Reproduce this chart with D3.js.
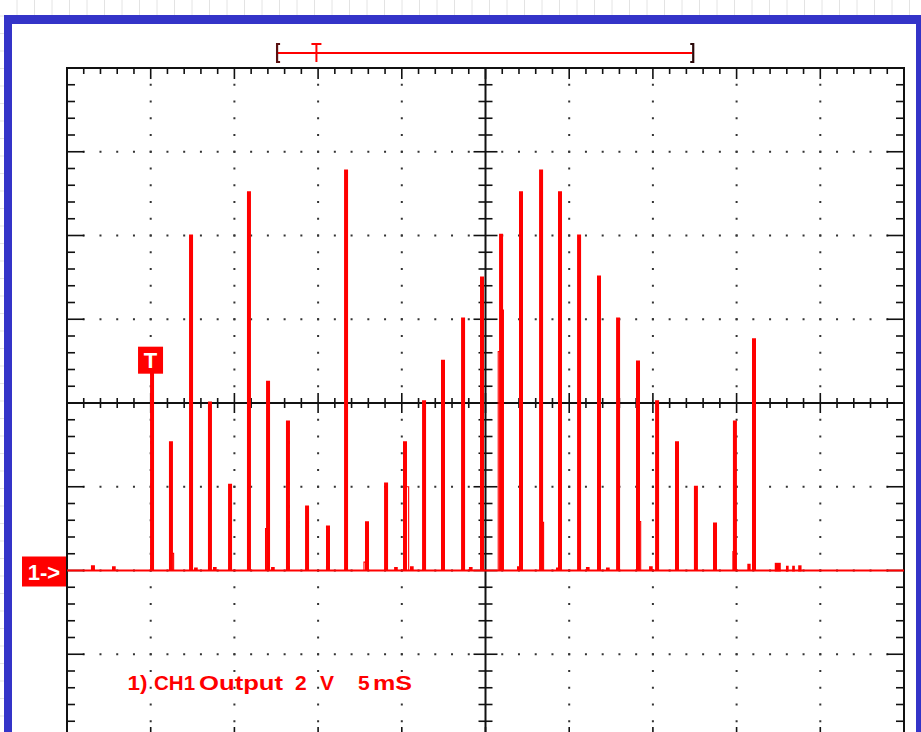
<!DOCTYPE html>
<html>
<head>
<meta charset="utf-8">
<script src="https://cdn.jsdelivr.net/npm/d3@7"></script>
<style>
  body { margin: 0; background: #fff; }
  svg { display: block; font-family: "Liberation Sans", Arial, sans-serif; }
</style>
</head>
<body>
<svg id="scope" width="921" height="732"></svg>
<script>
// scope settings: 5 ms / div across, 2 V / div up, trace ground two divs under centre
var msPerDiv = 5, voltsPerDiv = 2;
var timeRange = [0, 50], voltRange = [-4, 12];

// main pulses (time in ms, peak in V)
var pulseMs = [5.02, 6.15, 7.35, 8.48, 9.68, 10.81, 11.95, 13.14, 14.28, 15.53,
               16.61, 17.86, 19.0, 20.13, 21.27, 22.40, 23.60, 24.73, 25.87, 27.06,
               28.26, 29.39, 30.53, 31.72, 32.86, 34.05, 35.19, 36.38, 37.51, 38.65,
               39.84, 40.98];
var pulseV = [4.7, 3.06, 8.0, 4.01, 2.05, 9.03, 4.51, 3.56, 1.53, 1.05,
              9.55, 1.15, 2.08, 3.06, 4.04, 5.01, 6.02, 7.0, 8.02, 9.03,
              9.55, 9.03, 8.0, 7.02, 6.02, 4.99, 4.04, 3.06, 2.0, 1.12,
              3.56, 5.52];

// thin secondary spikes right after some pulses
var echoMs = [12.07, 26.05];
var echoV = [2.94, 6.23];

// faint hollow ghost pulses
var ghostMs = [6.2, 11.86, 17.74, 20.24, 25.76, 28.3, 34.1, 39.78];
var ghostV = [0.41, 1.0, 0.2, 2.0, 5.23, 1.15, 1.17, 0.45];

// small bumps on the ground line
var blipMs = [1.49, 2.75, 7.65, 8.78, 12.25, 19.6, 20.55, 24.07, 26.94, 29.27,
              31.06, 32.26, 34.83, 40.7];
var blipV = [0.1, 0.08, 0.05, 0.06, 0.06, 0.06, 0.08, 0.06, 0.08, 0.05,
             0.06, 0.05, 0.08, 0.14];
var blipW = [0.12, 0.1, 0.1, 0.1, 0.1, 0.1, 0.1, 0.1, 0.1, 0.1,
             0.1, 0.1, 0.1, 0.08];

// solid little marks after the last pulse
var tailMs = [42.28, 42.95, 43.32, 43.68];
var tailV = [0.16, 0.09, 0.09, 0.1];
var tailW = [0.36, 0.16, 0.16, 0.2];

var triggerMs = 5.02, triggerV = 4.7;
var windowMs = [12.55, 37.35];   // record window bracket over the screen
var windowTriggerMs = 14.9;
var labelParts = ["1)", "CH1", "Output", "2", "V", "5", "mS"];
var labelMs = [3.62, 5.2, 7.89, 13.62, 15.12, 17.39, 18.28];
var labelLen = [20, 41, 84, 0, 0, 0, 39];

var svg = d3.select("#scope");
var W = 921, H = 732;
var plotL = 67, plotR = 904, plotT = 68, plotB = 738;

var x = d3.scaleLinear().domain(timeRange).range([plotL, plotR]);
var y = d3.scaleLinear().domain(voltRange).range([plotB, plotT]);
var red = "#ff0000";

// light grid page background
var defs = svg.append("defs");
var pat = defs.append("pattern").attr("id", "bg").attr("width", 17.5).attr("height", 17.5)
  .attr("patternUnits", "userSpaceOnUse").attr("x", 0).attr("y", -1);
pat.append("rect").attr("width", 17.5).attr("height", 17.5).attr("fill", "#fff");
pat.append("path").attr("d", "M17.5,0V17.5M0,17.5H17.5").attr("stroke", "#dcdcdc").attr("stroke-width", 1.5);
svg.append("rect").attr("width", W).attr("height", H).attr("fill", "url(#bg)");

// blue window frame
svg.append("rect").attr("x", 4).attr("y", 15).attr("width", 930).attr("height", 740).attr("fill", "#3434c8");
svg.append("rect").attr("x", 12).attr("y", 24).attr("width", 904).attr("height", 730).attr("fill", "#fff");

var g = svg.append("g");

// dotted graticule
var dots = [];
var minorT = d3.range(timeRange[0] + 1, timeRange[1], 1);
var minorV = d3.range(1, 40).map(function(i) { return voltRange[0] + i * 0.4; });
var majorT = d3.range(5, 50, 5).filter(function(t) { return t != 25; });
var majorV = [-2, 0, 2, 6, 8, 10];
majorT.forEach(function(t) { minorV.forEach(function(v) { dots.push([t, v]); }); });
majorV.forEach(function(v) { minorT.forEach(function(t) { if (t != 25) dots.push([t, v]); }); });
g.selectAll(".dot").data(dots).enter().append("rect")
  .attr("class", "dot")
  .attr("x", function(d) { return x(d[0]) - 1; })
  .attr("y", function(d) { return y(d[1]) - 1; })
  .attr("width", 2).attr("height", 2)
  .attr("fill", "#333");

function isMajorT(t) { return Math.abs(t % msPerDiv) < 0.01; }
function isMajorV(v) {
  var k = (v - voltRange[0]) / voltsPerDiv;
  return Math.abs(k - Math.round(k)) < 0.01;
}

var ticks = g.append("g").attr("stroke", "#111").attr("stroke-width", 1.6);
// top and bottom edges, centre horizontal axis
minorT.forEach(function(t) {
  var len = isMajorT(t) ? 11 : 6;
  ticks.append("line").attr("x1", x(t)).attr("x2", x(t)).attr("y1", plotT).attr("y2", plotT + len);
  ticks.append("line").attr("x1", x(t)).attr("x2", x(t)).attr("y1", plotB).attr("y2", plotB - len);
  var c = isMajorT(t) ? 10 : 5;
  ticks.append("line").attr("x1", x(t)).attr("x2", x(t)).attr("y1", y(4) - c).attr("y2", y(4) + c);
});
// left and right edges, centre vertical axis
minorV.forEach(function(v) {
  var len = isMajorV(v) ? 17 : 8;
  ticks.append("line").attr("x1", plotL).attr("x2", plotL + len).attr("y1", y(v)).attr("y2", y(v));
  ticks.append("line").attr("x1", plotR).attr("x2", plotR - len).attr("y1", y(v)).attr("y2", y(v));
  var c = isMajorV(v) ? 12 : 7;
  ticks.append("line").attr("x1", x(25) - c).attr("x2", x(25) + c).attr("y1", y(v)).attr("y2", y(v));
});

// centre axes and frame
g.append("line").attr("x1", plotL).attr("x2", plotR).attr("y1", y(4)).attr("y2", y(4)).attr("stroke", "#111").attr("stroke-width", 2);
g.append("line").attr("x1", x(25)).attr("x2", x(25)).attr("y1", plotT).attr("y2", plotB).attr("stroke", "#111").attr("stroke-width", 2);
g.append("rect").attr("x", plotL).attr("y", plotT).attr("width", plotR - plotL).attr("height", plotB - plotT)
  .attr("fill", "none").attr("stroke", "#111").attr("stroke-width", 2);

// build main trace: ground line with rectangular spikes
var events = [];
pulseMs.forEach(function(t, i) { events.push({t: t, v: pulseV[i], w: 0.12}); });
blipMs.forEach(function(t, i) { events.push({t: t, v: blipV[i], w: blipW[i]}); });
events.sort(function(a, b) { return a.t - b.t; });

var pts = [[timeRange[0], 0]];
events.forEach(function(e) {
  pts.push([e.t, 0], [e.t, e.v], [e.t + e.w, e.v], [e.t + e.w, 0]);
});
pts.push([timeRange[1], 0]);

var line = d3.line().x(function(d) { return x(d[0]); }).y(function(d) { return y(d[1]); });

// hollow ghosts
g.selectAll(".ghost").data(ghostMs).enter().append("path")
  .attr("class", "ghost")
  .attr("d", function(t, i) { return line([[t, 0], [t, ghostV[i]], [t + 0.17, ghostV[i]], [t + 0.17, 0]]); })
  .attr("fill", "none").attr("stroke", red).attr("stroke-width", 1.1);

g.selectAll(".echo").data(echoMs).enter().append("path")
  .attr("class", "echo")
  .attr("d", function(t, i) { return line([[t, 0], [t, echoV[i]]]); })
  .attr("fill", "none").attr("stroke", red).attr("stroke-width", 1.8);

g.append("path").attr("d", line(pts)).attr("fill", "none").attr("stroke", red)
  .attr("stroke-width", 2).attr("stroke-linejoin", "miter");

g.selectAll(".tail").data(tailMs).enter().append("rect")
  .attr("class", "tail")
  .attr("x", function(t) { return x(t); })
  .attr("y", function(t, i) { return y(tailV[i]) - 1; })
  .attr("width", function(t, i) { return x(t + tailW[i]) - x(t); })
  .attr("height", function(t, i) { return y(0) - y(tailV[i]) + 2; })
  .attr("fill", red);

// trigger marker
var trig = svg.append("g");
trig.append("rect").attr("x", x(triggerMs) - 13).attr("y", y(triggerV) - 27).attr("width", 25).attr("height", 27).attr("fill", red);
trig.append("text").attr("x", x(triggerMs) - 0.5).attr("y", y(triggerV) - 6).attr("text-anchor", "middle")
  .attr("fill", "#fff").attr("font-weight", "bold").attr("font-size", 22).text("T");

// channel ground marker
var ch = svg.append("g");
ch.append("rect").attr("x", 22).attr("y", y(0) - 14).attr("width", 44).attr("height", 30).attr("fill", red);
ch.append("text").attr("x", 44).attr("y", y(0) + 9).attr("text-anchor", "middle")
  .attr("fill", "#fff").attr("font-weight", "bold").attr("font-size", 22).text("1->");

// record window bracket above the screen
var bw = svg.append("g");
var by = 53;
bw.append("line").attr("x1", x(windowMs[0])).attr("x2", x(windowMs[1])).attr("y1", by).attr("y2", by)
  .attr("stroke", red).attr("stroke-width", 2);
bw.append("path").attr("d", "M" + (x(windowMs[0]) + 3) + "," + (by - 9) + "h-3v18h3")
  .attr("fill", "none").attr("stroke", "#5a1010").attr("stroke-width", 2.2);
bw.append("path").attr("d", "M" + (x(windowMs[1]) - 2) + "," + (by - 9) + "h3v18h-3")
  .attr("fill", "none").attr("stroke", "#2a0a0a").attr("stroke-width", 2.2);
bw.append("path").attr("d", "M" + (x(windowTriggerMs) - 5) + "," + (by - 9) + "h10M" + x(windowTriggerMs) + "," + (by - 9) + "v18")
  .attr("fill", "none").attr("stroke", red).attr("stroke-width", 2);

// channel label
svg.selectAll(".lbl").data(labelParts).enter().append("text")
  .attr("class", "lbl")
  .attr("x", function(d, i) { return x(labelMs[i]); })
  .attr("y", 690)
  .attr("textLength", function(d, i) { return labelLen[i] || null; })
  .attr("lengthAdjust", "spacingAndGlyphs")
  .attr("fill", red).attr("font-weight", "bold").attr("font-size", 21)
  .text(function(d) { return d; });
</script>
</body>
</html>
